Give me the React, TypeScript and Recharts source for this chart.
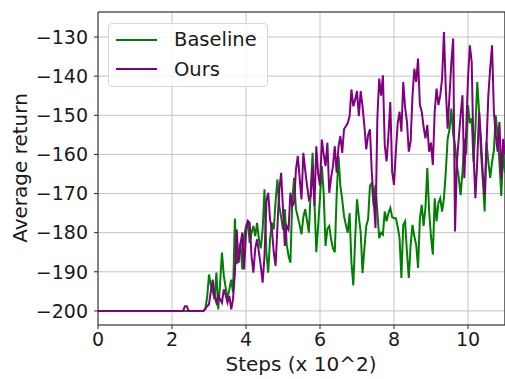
import React from 'react';
import {
  LineChart,
  Line,
  XAxis,
  YAxis,
  CartesianGrid,
  ReferenceLine,
  Label,
} from 'recharts';

// flat start, before learning kicks in
const prefixSteps = [0, 2.3, 2.35, 2.4, 2.45];
const prefixBaseline = [-200, -200, -200, -200, -200];
const prefixOurs = [-200, -200, -198.8, -198.8, -200];

// sampled every 0.05 (x 10^2 steps) from 2.85 on
const START = 2.85;
const STEP = 0.05;

const baseline = [
  -200, -199.5, -196.5, -190.7, -193.5, -195, -197, -190.2, -199.6, -193,
  -185.1, -191, -194, -197, -194.5, -192, -195.3, -176.4, -188, -186,
  -182.6, -189.4, -181, -178.3, -177, -182.6, -180, -178.3, -180.9, -177.5,
  -181.7, -184, -179.2, -168.9, -185, -190.2, -181.7, -177.5, -179.2, -172,
  -166.4, -173.2, -176, -179.2, -174, -183, -186, -187.7, -172, -166,
  -174, -176, -178, -180.4, -176, -174, -177, -180, -169, -159.6,
  -172, -185, -178.3, -171, -163, -170, -183.4, -179, -178.3, -181.7,
  -184, -185, -170.6, -160.4, -168, -171.5, -175.8, -178, -180, -175,
  -187.7, -193.5, -181.7, -171.5, -176, -180, -190.3, -184, -178.3, -176.6,
  -168, -167.3, -173.2, -167.8, -174.6, -181.4, -180, -180.5, -174.6, -177.1,
  -175, -173.7, -176, -176.3, -176.3, -178.5, -181.4, -191.6, -178, -177.1,
  -185, -191.6, -183.1, -178, -181, -183.1, -189, -176.3, -172.9, -178.3,
  -173.7, -163.5, -174.6, -181, -185.6, -171.2, -177.1, -172.4, -171.2, -174.6,
  -171.2, -164.4, -156, -153.6, -148.3, -155, -157.6, -162.7, -166, -170.4,
  -164.7, -156, -160, -147.4, -152, -150.8, -162, -153.4, -141.5, -149,
  -159.3, -166.4, -174.6, -156.8, -162, -166, -162, -159, -150, -155,
  -162, -170.6, -159.3, -164.7,
];

const ours = [
  -200, -199.5, -198.8, -198.3, -195, -192, -196.2, -197.9, -196, -197,
  -197.9, -194.5, -196, -197.9, -196.2, -199.6, -197, -190.2, -179.2, -187.7,
  -183, -180, -189.4, -180, -177, -177.5, -186, -190.2, -184, -181.7,
  -185.1, -188.5, -192.8, -186, -172, -169.8, -176.6, -179.2, -185, -188.5,
  -178.3, -169, -164.7, -174, -183.4, -178.3, -179.2, -169.8, -173.2, -172.4,
  -163.9, -160.4, -166, -171.5, -159.6, -164, -168, -171.5, -170.7, -163,
  -173.2, -157.9, -165, -168, -156.2, -160, -163, -157, -169.8, -166,
  -163, -157.9, -164.7, -158, -155.3, -159.6, -153.5, -152.8, -152, -150.2,
  -143.4, -147.7, -146, -143.8, -150.2, -143.8, -147.7, -152.8, -158.7, -155,
  -153.6, -164.7, -171.5, -178.8, -150.8, -140.6, -145, -139.8, -157.6, -161.8,
  -155, -146.6, -164.4, -167.8, -159.3, -152, -149.1, -154.2, -141.5, -148,
  -151.6, -159.3, -156.7, -145, -138.1, -141.5, -135.5, -147.4, -149.1, -153,
  -155.9, -152.5, -159.3, -157, -162.7, -149.1, -143.2, -147.4, -144.9, -140.6,
  -128.7, -143.2, -153.4, -145, -136.4, -130.4, -179.7, -161.9, -156, -150,
  -144.9, -166.1, -154.2, -140.6, -132.1, -136.4, -160, -171.2, -161.9, -149.1,
  -156, -165, -170.4, -157.6, -144.9, -138, -132.1, -149.1, -155, -159.3,
  -151.7, -166.1, -156, -160,
];

const xTicks = [0, 2, 4, 6, 8, 10];
const yTicks = [-200, -190, -180, -170, -160, -150, -140, -130];

const X_MAX = 11;
const Y_MIN = -203.6;
const Y_MAX = -123.6;

const FONT = '"DejaVu Sans", sans-serif';
const GREEN = '#008000';
const PURPLE = '#800080';
const SPINE = '#262626';
const TEXT = '#1a1a1a';

const chartData = [
  ...prefixSteps.map((s, i) => ({ step: s, baseline: prefixBaseline[i], ours: prefixOurs[i] })),
  ...baseline.map((v, i) => ({
    step: +(START + i * STEP).toFixed(2),
    baseline: v,
    ours: ours[i],
  })),
];

function LegendBox() {
  const items = [
    { name: 'Baseline', color: GREEN },
    { name: 'Ours', color: PURPLE },
  ];
  return (
    <div
      style={{
        position: 'absolute',
        left: 108,
        top: 23,
        width: 160,
        height: 64,
        border: '1px solid #d6d6d6',
        borderRadius: 4,
        background: 'rgba(255,255,255,0.8)',
        boxSizing: 'border-box',
        paddingTop: 1,
      }}
    >
      {items.map((it) => (
        <div
          key={it.name}
          style={{ display: 'flex', alignItems: 'center', height: 29.5, fontFamily: FONT, fontSize: 19.5, color: TEXT }}
        >
          <span style={{ width: 41, height: 0, borderTop: `2px solid ${it.color}`, marginLeft: 7, marginRight: 17 }} />
          <span>{it.name}</span>
        </div>
      ))}
    </div>
  );
}

export default function App() {
  return (
    <div style={{ position: 'relative', width: 505, height: 379, background: '#fff' }}>
      <style>{'body{margin:0}'}</style>
      <LineChart
        width={505}
        height={379}
        data={chartData}
        margin={{ top: 12, right: 0, left: 0, bottom: 0 }}
      >
        <CartesianGrid stroke="#c4c4c4" strokeWidth={1} />
        <XAxis
          dataKey="step"
          type="number"
          domain={[0, X_MAX]}
          ticks={xTicks}
          allowDataOverflow
          height={54}
          stroke={SPINE}
          tickSize={4}
          tickMargin={4}
          tick={{ fill: TEXT, fontSize: 19, fontFamily: FONT }}
        >
          <Label
            content={() => (
              <text x={301} y={371} textAnchor="middle" fontFamily={FONT} fontSize={20} fill={TEXT}>
                Steps (x 10^2)
              </text>
            )}
          />
        </XAxis>
        <YAxis
          type="number"
          domain={[Y_MIN, Y_MAX]}
          ticks={yTicks}
          allowDataOverflow
          width={98}
          stroke={SPINE}
          tickSize={4}
          tickMargin={6}
          tickFormatter={(v) => String(v).replace('-', '\u2212')}
          tick={{ fill: TEXT, fontSize: 19, fontFamily: FONT }}
        >
          <Label
            content={() => (
              <text
                x={27}
                y={168}
                transform="rotate(-90 27 168)"
                textAnchor="middle"
                fontFamily={FONT}
                fontSize={20}
                fill={TEXT}
              >
                Average return
              </text>
            )}
          />
        </YAxis>
        <ReferenceLine y={Y_MAX} stroke={SPINE} strokeWidth={1.2} />
        <ReferenceLine x={X_MAX} stroke={SPINE} strokeWidth={1.2} />
        <Line
          type="linear"
          dataKey="baseline"
          stroke={GREEN}
          strokeWidth={2}
          dot={false}
          isAnimationActive={false}
        />
        <Line
          type="linear"
          dataKey="ours"
          stroke={PURPLE}
          strokeWidth={2}
          dot={false}
          isAnimationActive={false}
        />
      </LineChart>
      <LegendBox />
    </div>
  );
}
